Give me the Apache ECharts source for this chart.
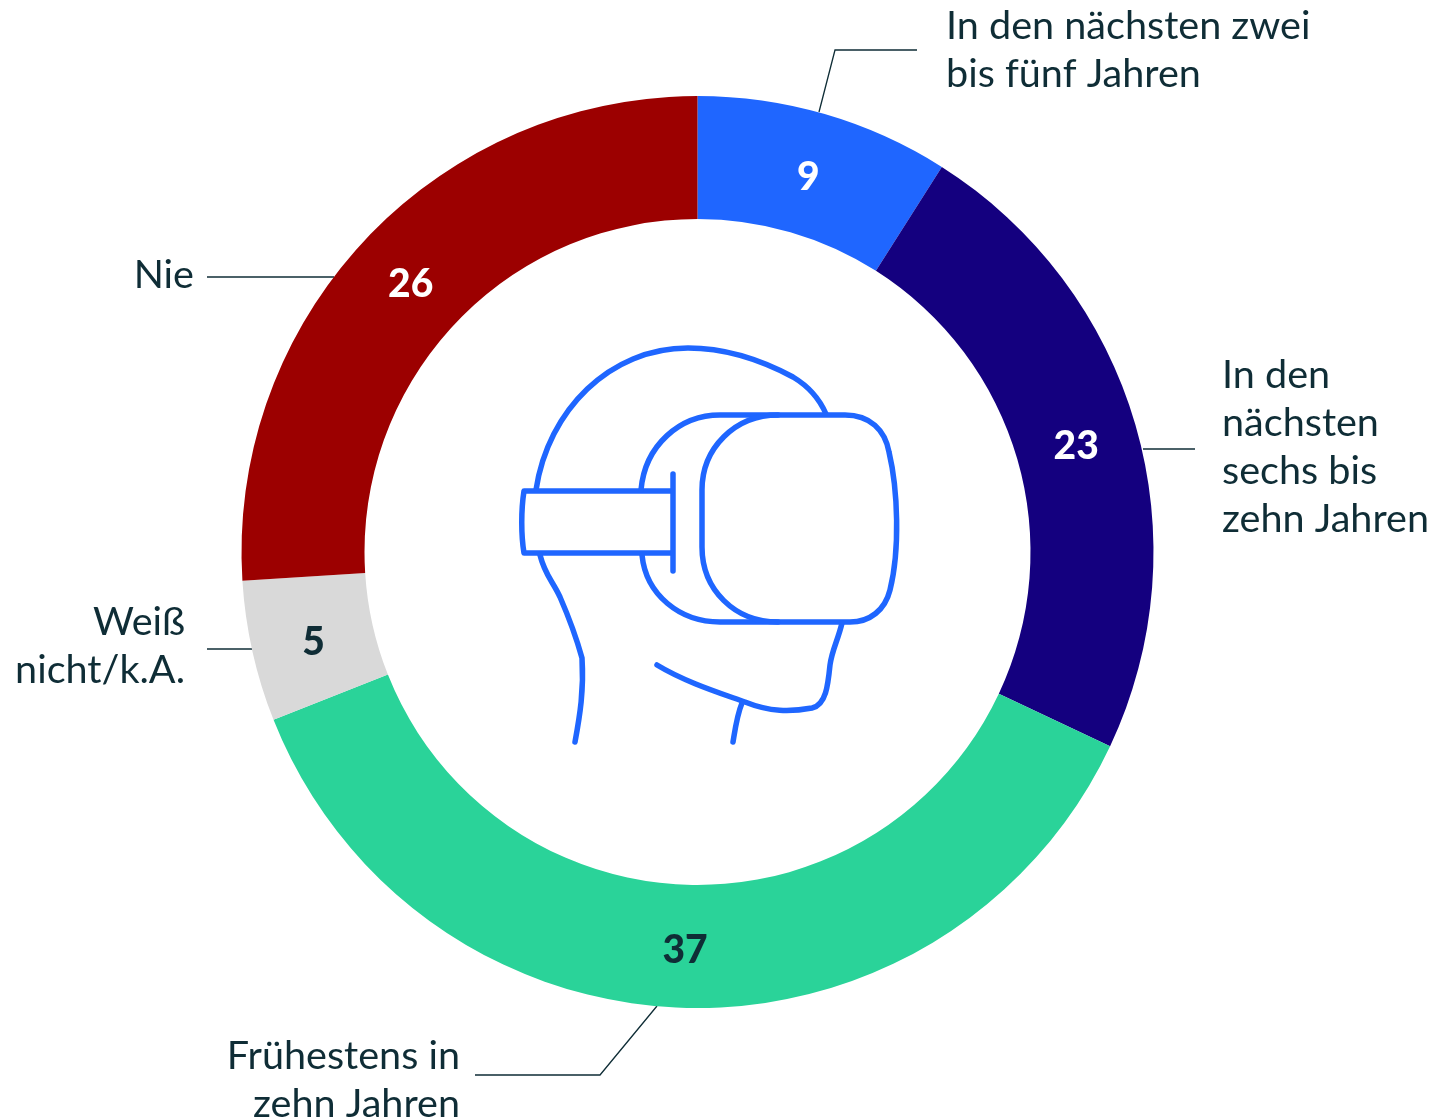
<!DOCTYPE html>
<html>
<head>
<meta charset="utf-8">
<title>VR</title>
<style>
  html, body { margin: 0; padding: 0; background: #fff; overflow: hidden; }
  #chart { width: 1455px; height: 1120px; }
</style>
<script src="https://cdn.jsdelivr.net/npm/echarts@6/dist/echarts.min.js"></script>
</head>
<body>
<div id="chart"></div>
<script>
var categories = ['In den nächsten zwei\nbis fünf Jahren', 'In den\nnächsten\nsechs bis\nzehn Jahren', 'Frühestens in\nzehn Jahren', 'Weiß\nnicht/k.A.', 'Nie']
var values = [9, 23, 37, 5, 26]
var colors = ['#1f66ff', '#14007f', '#2ad399', '#d9d9d9', '#9c0000']
var valueColors = ['#fff', '#fff', '#0f2d36', '#0f2d36', '#fff']

var textColor = '#0f2d36'
var fontName = 'Lato'

// icon in the hole of the ring
var iconPaths = [
  'M536 490 C548 410 610 348 688 348 C730 348 765 362 793 377 C808 386 820 400 826 414',
  'M672 491 L524 491 C521 510 521 535 524 553 L672 553',
  'M673 474 L673 571',
  'M641 490 C645 445 680 415 720 415 L845 415 C870 415 885 430 889 452 C898 490 900 550 890 590 C885 610 870 622 850 622 L720 622 C680 622 646 595 642 555',
  'M778 415 C735 415 702 448 702 490 L702 547 C702 590 735 622 778 622',
  'M540 555 C545 575 552 580 560 597 C570 620 577 640 582 658 C584 690 580 715 575 742',
  'M842 623 C838 640 832 650 830 665 C828 685 826 705 812 708 C790 712 770 712 745 702 C720 693 685 682 657 665',
  'M742 703 C737 715 735 730 733 742'
]

// leader lines from the ring to the texts
var leaders = [
  [[819, 112], [835, 50], [917, 50]],
  [[1143, 449], [1195, 449]],
  [[657, 1006], [600, 1075], [475, 1075]],
  [[207, 649], [252, 649]],
  [[207, 277], [334, 277]]
]

// x, y of the text block and its alignment
var textPos = [
  [946, 2, 'left'],
  [1222, 351, 'left'],
  [460, 1032, 'right'],
  [185, 598, 'right'],
  [194, 251, 'right']
]

// nudge of the value labels, the default spot is a bit off
var valueShift = [[0, 7], [-3, 5], [0, 1], [4, 4], [3, 5]]

var graphics = []
iconPaths.forEach(function (p, i) {
  // the graphic component has no plain path type, so register each one as a shape
  var shapeName = 'vrIcon' + i
  echarts.graphic.registerShape(shapeName, echarts.graphic.extendPath(p, {}))
  graphics.push({
    type: shapeName,
    silent: true,
    style: { fill: null, stroke: '#1f66ff', lineWidth: 5.5, lineCap: 'round', lineJoin: 'round' }
  })
})
leaders.forEach(function (pts) {
  graphics.push({
    type: 'polyline',
    silent: true,
    shape: { points: pts },
    style: { fill: null, stroke: textColor, lineWidth: 1.3 }
  })
})
categories.forEach(function (name, i) {
  graphics.push({
    type: 'text',
    silent: true,
    x: textPos[i][0],
    y: textPos[i][1],
    style: {
      text: name,
      fill: textColor,
      align: textPos[i][2],
      verticalAlign: 'top',
      font: '39.6px ' + fontName,
      lineHeight: 48
    }
  })
})

var chart = echarts.init(document.getElementById('chart'), null, { renderer: 'canvas' })
chart.setOption({
  animation: false,
  graphic: graphics,
  series: [{
    type: 'pie',
    center: [697.5, 552],
    radius: [333, 456],
    startAngle: 90,
    clockwise: true,
    silent: true,
    data: values.map(function (v, i) {
      return {
        value: v,
        name: categories[i],
        itemStyle: { color: colors[i] },
        label: { color: valueColors[i] }
      }
    }),
    label: {
      show: true,
      position: 'inside',
      formatter: '{c}',
      fontFamily: fontName,
      fontWeight: 900,
      fontSize: 39
    },
    labelLayout: function (params) {
      return { dx: valueShift[params.dataIndex][0], dy: valueShift[params.dataIndex][1] }
    },
    labelLine: { show: false }
  }]
})
</script>
</body>
</html>
